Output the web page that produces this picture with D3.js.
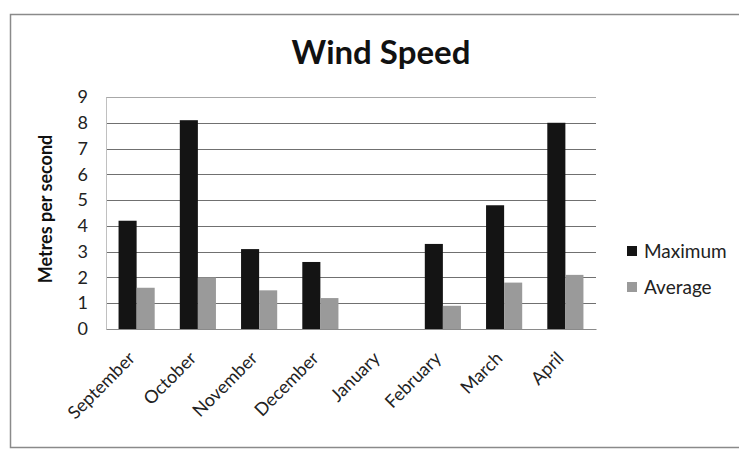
<!DOCTYPE html>
<html>
<head>
<meta charset="utf-8">
<script src="https://cdn.jsdelivr.net/npm/d3@7"></script>
<style>
  html, body { margin: 0; padding: 0; background: #ffffff; }
  svg { display: block; }
</style>
</head>
<body>
<svg id="chart" width="739" height="450"></svg>
<script>
const months = ["September", "October", "November", "December", "January", "February", "March", "April"];
const maximum = [4.2, 8.1, 3.1, 2.6, 0, 3.3, 4.8, 8.0];
const average = [1.6, 2.0, 1.5, 1.2, 0, 0.9, 1.8, 2.1];
const seriesNames = ["Maximum", "Average"];
const seriesColors = ["#141414", "#9a9a9a"];
const yTicks = [0, 1, 2, 3, 4, 5, 6, 7, 8, 9];

const svg = d3.select("#chart");
const font = "Lato, 'Open Sans', sans-serif";

// outer frame
svg.append("rect")
  .attr("x", 10.5).attr("y", 14.5).attr("width", 740).attr("height", 433)
  .attr("fill", "#ffffff").attr("stroke", "#8a8a8a").attr("stroke-width", 1.5);

// title
svg.append("text")
  .attr("x", 381).attr("y", 64)
  .attr("text-anchor", "middle")
  .attr("font-family", font).attr("font-weight", "bold")
  .attr("font-size", 33).attr("fill", "#111")
  .text("Wind Speed");

const plot = { left: 106, right: 596, top: 97, bottom: 329 };

const x0 = d3.scaleBand().domain(months).range([plot.left, plot.right]).paddingInner(0.41).paddingOuter(0.205);
const x1 = d3.scaleBand().domain(seriesNames).range([0, x0.bandwidth()]);
const y = d3.scaleLinear().domain([0, 9]).range([plot.bottom, plot.top]);

// gridlines
const g = svg.append("g");
g.selectAll("line.grid").data(yTicks.filter(d => d > 0)).enter().append("line")
  .attr("x1", plot.left).attr("x2", plot.right)
  .attr("y1", d => Math.round(y(d)) + 0.5).attr("y2", d => Math.round(y(d)) + 0.5)
  .attr("stroke", d => d === 9 ? "#a8a8a8" : "#707070").attr("stroke-width", 1);

// y axis
const yAxis = d3.axisLeft(y).tickValues(yTicks).tickSize(0).tickPadding(18).tickFormat(d3.format("d"));
const ya = svg.append("g").attr("transform", `translate(${plot.left},0)`).call(yAxis);
ya.select(".domain").attr("stroke", "#c0c0c0");
ya.selectAll("text").attr("font-family", font).attr("font-size", 18).attr("fill", "#222");

// bars
const data = months.map((m, i) => ({ month: m, values: [maximum[i], average[i]] }));
const groups = svg.append("g").selectAll("g").data(data).enter().append("g")
  .attr("transform", d => `translate(${x0(d.month)},0)`);
groups.selectAll("rect").data(d => d.values.map((v, j) => ({ key: seriesNames[j], v, j })))
  .enter().append("rect")
  .attr("x", d => x1(d.key))
  .attr("width", x1.bandwidth())
  .attr("y", d => y(d.v))
  .attr("height", d => y(0) - y(d.v))
  .attr("fill", d => seriesColors[d.j]);

// x axis
const xAxis = d3.axisBottom(x0).tickSize(0).tickPadding(0);
const xa = svg.append("g").attr("transform", `translate(0,${plot.bottom})`).call(xAxis);
xa.select(".domain").attr("stroke", "#8a8a8a").attr("stroke-width", 1.2);
xa.selectAll("text")
  .attr("font-family", font).attr("font-size", 18).attr("fill", "#222")
  .attr("text-anchor", "end")
  .attr("dy", "0.35em")
  .attr("transform", "translate(-5,26) rotate(-45)");

// y axis title
svg.append("text")
  .attr("transform", `translate(52,${(plot.top + plot.bottom) / 2 - 4}) rotate(-90)`)
  .attr("text-anchor", "middle")
  .attr("font-family", font).attr("font-weight", "bold")
  .attr("font-size", 18).attr("fill", "#111")
  .text("Metres per second");

// legend
const legend = svg.append("g").attr("transform", "translate(627,0)");
const ly = d3.scalePoint().domain(seriesNames).range([251, 287]);
legend.selectAll("rect").data(seriesNames).enter().append("rect")
  .attr("x", 0).attr("y", d => ly(d) - 5).attr("width", 10).attr("height", 10)
  .attr("fill", (d, i) => seriesColors[i]);
legend.selectAll("text").data(seriesNames).enter().append("text")
  .attr("x", 17).attr("y", d => ly(d)).attr("dy", "0.35em")
  .attr("font-family", font).attr("font-size", 19).attr("fill", "#222")
  .text(d => d);
</script>
</body>
</html>
